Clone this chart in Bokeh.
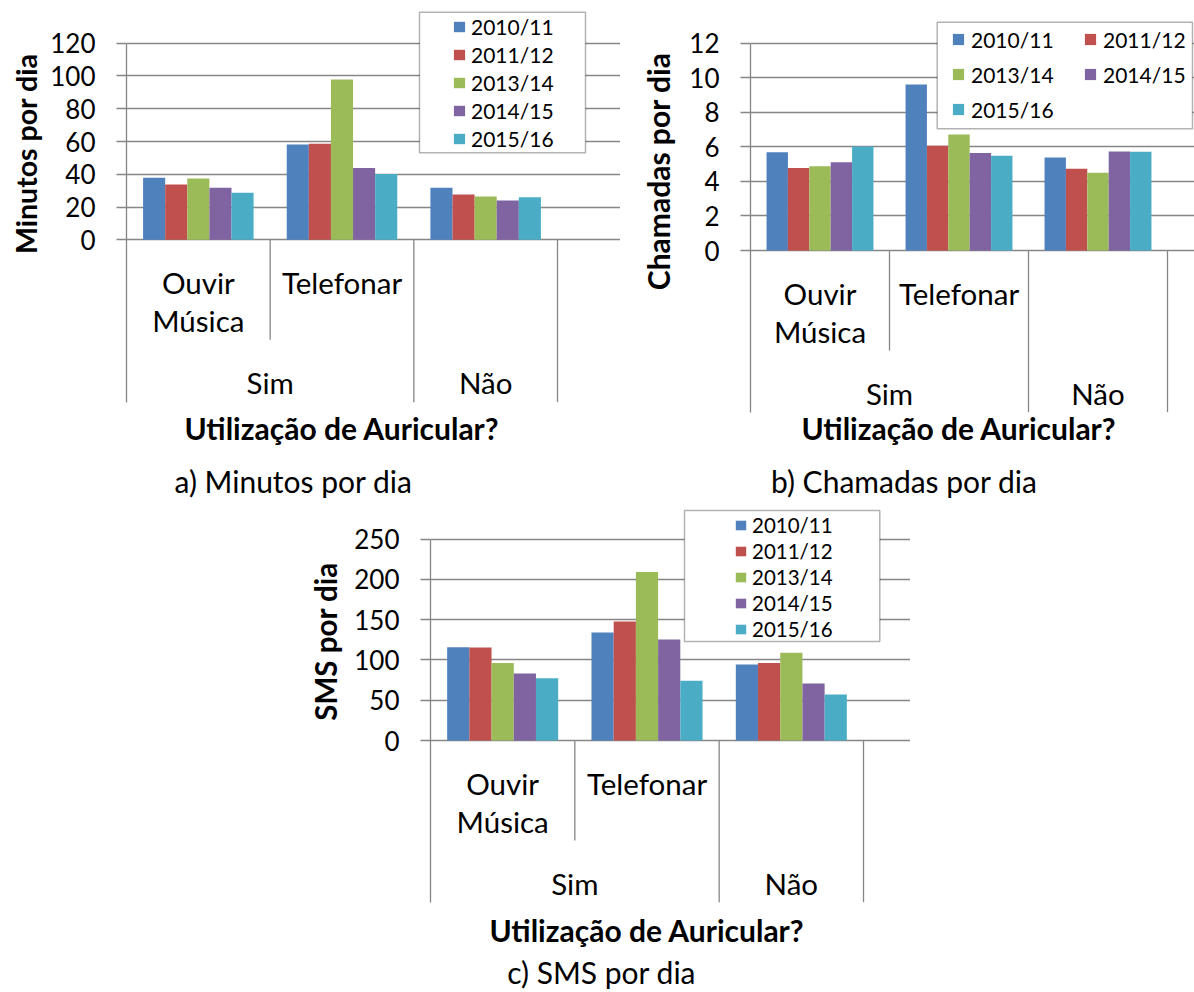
from bokeh.plotting import figure
from bokeh.models import (Range1d, FixedTicker, Legend, LegendItem, Title,
                          BoxAnnotation, Label, Spacer, ColumnDataSource)
from bokeh.transform import dodge
from bokeh.core.properties import value
from bokeh.layouts import column, row
from bokeh.embed import file_html
from bokeh.resources import INLINE

# ---------------- data ----------------
categories = ["Ouvir Música", "Telefonar", "Não"]
category_labels = ["Ouvir\nMúsica", "Telefonar", ""]
groups = ["Sim", "Sim", "Não"]
series = ["2010/11", "2011/12", "2013/14", "2014/15", "2015/16"]
colors = ["#4F81BD", "#C0504D", "#9BBB59", "#8064A2", "#4BACC6"]

minutos = [
    [37.8, 58.2, 31.7],
    [33.8, 58.6, 27.7],
    [37.4, 97.9, 26.4],
    [31.7, 43.9, 24.0],
    [28.7, 40.1, 26.0],
]
minutos_ticks = [0, 20, 40, 60, 80, 100, 120]

chamadas = [
    [5.69, 9.61, 5.38],
    [4.77, 6.06, 4.73],
    [4.88, 6.71, 4.50],
    [5.11, 5.65, 5.73],
    [6.02, 5.48, 5.71],
]
chamadas_ticks = [0, 2, 4, 6, 8, 10, 12]

sms = [
    [115.9, 134.1, 94.4],
    [115.5, 147.8, 96.4],
    [96.4, 209.4, 108.9],
    [83.2, 125.4, 70.8],
    [77.4, 74.1, 57.1],
]
sms_ticks = [0, 50, 100, 150, 200, 250]

x_title = "Utilização de Auricular?"

# ---------------- style ----------------
FONT = "Lato"
GREY = "#868686"
LW = 1.3
LINE1, LINE2, GROUP_ROW, SEP_SHORT = 42.5, 81, 142.5, 100
BAR_W = 1 / 6.5
HAS_STANDOFF = "standoff" in Title.properties()


def make_chart(vals, ticks, ytitle, caption, fig_box, geo, ytitle_pos, xtitle_y,
               cap_pos, lg):
    fx, fy, fw, fh = fig_box
    L, Rb, T, Z, Bb = geo          # axis x, band right, top tick y, zero y, band bottom y
    FB = fy + fh                   # frame bottom (page px)
    n = len(categories)
    ymax = ticks[-1]
    s = (Z - T) / ymax             # px per unit

    def to_val(px_below_zero):
        return -px_below_zero / s

    band_low = to_val(Bb - Z)
    p = figure(width=fw, height=fh,
               x_range=Range1d(0, n * (fx + fw - L) / (Rb - L)),
               y_range=Range1d(to_val(FB - Z), ymax + (T - fy) / s),
               x_axis_location=None,
               output_backend="svg", toolbar_location=None,
               min_border_left=L - fx, min_border_right=0,
               min_border_top=0, min_border_bottom=0)
    p.outline_line_color = None
    p.background_fill_color = "white"
    p.border_fill_color = "white"
    for g in p.xgrid:
        g.visible = False

    tk = FixedTicker(ticks=ticks)
    yax = p.yaxis[0]
    yax.ticker = tk
    yax.bounds = (band_low, ymax)
    yax.axis_line_color = GREY
    yax.axis_line_width = LW
    yax.major_tick_line_color = GREY
    yax.major_tick_line_width = LW
    yax.major_tick_out = 10
    yax.major_tick_in = 0
    yax.minor_tick_out = 0
    yax.minor_tick_in = 0
    yax.major_label_standoff = 21
    yax.major_label_text_font = FONT
    yax.major_label_text_font_size = "26px"
    yax.major_label_text_color = "black"
    p.ygrid.ticker = tk
    p.ygrid.bounds = (0, n)
    p.ygrid.grid_line_color = GREY
    p.ygrid.grid_line_width = LW

    # y title
    tkw = dict(text=ytitle, align="right", offset=ytitle_pos[0] - fy,
               text_font=FONT, text_font_style="bold", text_font_size=ytitle_pos[2],
               text_color="black")
    if HAS_STANDOFF:
        tkw["standoff"] = ytitle_pos[1]
    p.add_layout(Title(**tkw), "left")

    # bars
    cat_x = [i + 0.5 for i in range(n)]
    items = []
    for i, (name, color) in enumerate(zip(series, colors)):
        src = ColumnDataSource(dict(x=cat_x, v=vals[i]))
        r = p.vbar(x=dodge("x", (i - 2) * BAR_W), top="v", width=BAR_W,
                   source=src, fill_color=color, line_color=None)
        items.append(LegendItem(label=name, renderers=[r]))

    # category separators (inner ones and the right edge)
    bx, by = [], []
    for i in range(1, n + 1):
        bx.append(i)
        short = i < n and groups[i - 1] == groups[i]
        by.append(to_val(SEP_SHORT) if short else band_low)
    p.segment(x0=bx, y0=[0] * len(bx), x1=bx, y1=by, line_color=GREY, line_width=LW)

    # category labels
    lines = [lbl.split("\n") if lbl else [] for lbl in category_labels]
    for k, off in enumerate([LINE1, LINE2]):
        xs = [c for c, ls in zip(cat_x, lines) if len(ls) > k]
        ts = [ls[k] for ls in lines if len(ls) > k]
        p.text(x=xs, y=[to_val(off)] * len(xs), text=ts, text_font=value(FONT),
               text_font_size=value("29.5px"), text_align="center",
               text_baseline="middle", text_color="black")
    gnames = list(dict.fromkeys(groups))
    gx = [sum(i + 0.5 for i, g in enumerate(groups) if g == gn) / groups.count(gn)
          for gn in gnames]
    p.text(x=gx, y=[to_val(GROUP_ROW)] * len(gx), text=gnames, text_font=value(FONT),
           text_font_size=value("29.5px"), text_align="center",
           text_baseline="middle", text_color="black")

    # x title and caption
    p.add_layout(Label(x=(Rb - L) / 2, y=FB - xtitle_y, x_units="screen", y_units="screen",
                       text=x_title, text_align="center", text_baseline="middle",
                       text_font=FONT, text_font_style="bold", text_font_size="30px",
                       text_color="black"))
    p.add_layout(Label(x=cap_pos[0] - L, y=FB - cap_pos[1], x_units="screen", y_units="screen",
                       text=caption, text_align="left", text_baseline="middle",
                       text_font=FONT, text_font_size="30px", text_color="black"))

    # legend frame + legend
    bl, br, bt, bb = lg["box"]
    p.add_layout(BoxAnnotation(left=bl - L, right=br - L, top=FB - bt, bottom=FB - bb,
                               left_units="screen", right_units="screen",
                               top_units="screen", bottom_units="screen",
                               fill_color="white", fill_alpha=1.0,
                               line_color="black", line_width=1.5))
    ncols = lg["ncols"]
    nrows = -(-len(items) // ncols)
    rh, sp = lg["rh"], lg["sp"]
    height = nrows * rh + (nrows - 1) * sp
    top = lg["first"] - rh / 2
    legend = Legend(items=items, location=(lg["gx"] - L, FB - (top + height)),
                    orientation="horizontal" if ncols > 1 else "vertical",
                    ncols=ncols, padding=0, margin=0, spacing=sp,
                    glyph_width=lg["gw"], glyph_height=lg["gh"], label_standoff=lg["so"],
                    label_width=lg["lw"], label_height=rh,
                    label_text_font=FONT, label_text_font_size=lg["fs"],
                    label_text_color="black",
                    border_line_color=None, background_fill_alpha=0.0)
    p.add_layout(legend)
    return p


pa = make_chart(minutos, minutos_ticks, "Minutos por dia", "a) Minutos por dia",
                fig_box=(0, 0, 620, 500), geo=(126, 557, 42.7, 239.3, 401.7),
                ytitle_pos=(53, 10, "28.5px"), xtitle_y=427.5, cap_pos=(174, 480),
                lg=dict(box=(419, 585, 11.7, 152.3), gx=452, first=26.7, rh=26, sp=2,
                        gw=14, gh=13, so=5, lw=90, fs="21px", ncols=1))

pb = make_chart(chamadas, chamadas_ticks, "Chamadas por dia", "b) Chamadas por dia",
                fig_box=(620, 0, 574, 500), geo=(750, 1167, 42.7, 250, 411.7),
                ytitle_pos=(52, 22, "30px"), xtitle_y=427, cap_pos=(770.5, 480),
                lg=dict(box=(936.7, 1192, 21.7, 128.3), gx=951, first=39.3, rh=26, sp=9,
                        gw=14, gh=14, so=6, lw=103, fs="21px", ncols=2))

pc = make_chart(sms, sms_ticks, "SMS por dia", "c) SMS por dia",
                fig_box=(290, 500, 620, 492), geo=(430, 863, 538.7, 740, 901.7),
                ytitle_pos=(561.7, 18, "29.5px"), xtitle_y=929, cap_pos=(506.7, 971),
                lg=dict(box=(684, 879.3, 510, 641), gx=734, first=525, rh=24, sp=2,
                        gw=13, gh=12, so=5, lw=85, fs="20.5px", ncols=1))

layout = column(row(pa, pb), row(Spacer(width=290, height=492), pc))
open("out.html", "w").write(file_html(layout, INLINE, title="Auricular"))
